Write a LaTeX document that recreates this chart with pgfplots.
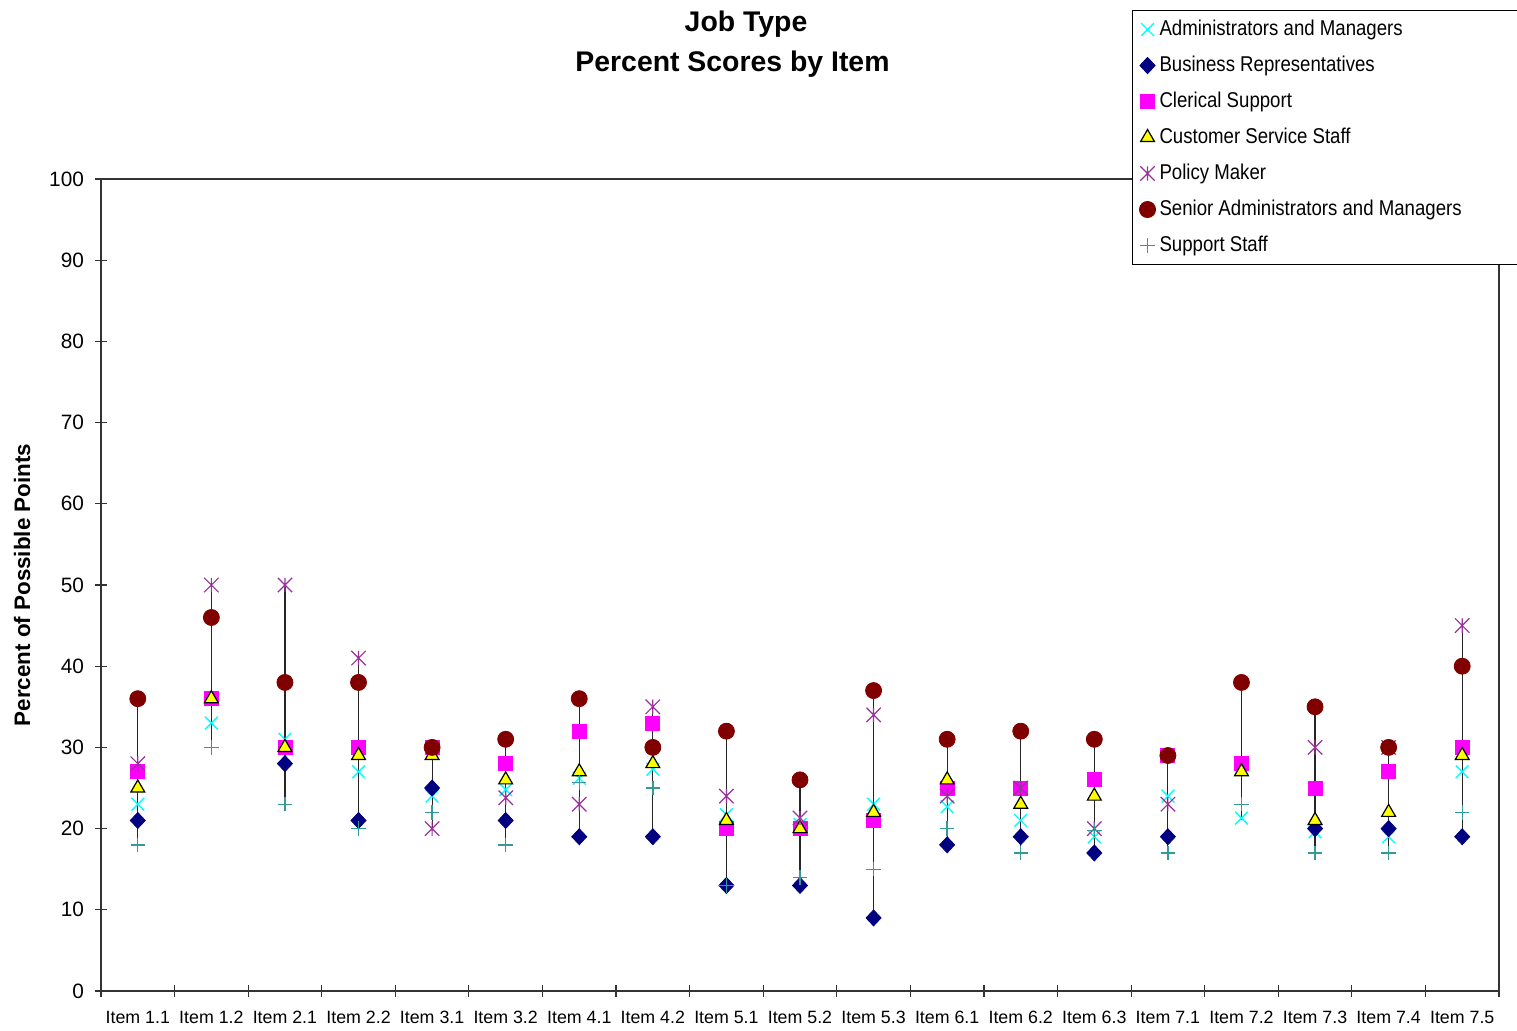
\documentclass[border=0pt]{standalone}
\usepackage{fontspec}
\setmainfont{Liberation Sans}
\newfontfamily\legendfont[FakeStretch=0.87]{Liberation Sans}
\usepackage{pgfplots}
\pgfplotsset{compat=1.18}
\usepackage{pgfplotstable}

\definecolor{adm}{RGB}{0,255,255}
\definecolor{bus}{RGB}{0,0,128}
\definecolor{cle}{RGB}{255,0,255}
\definecolor{cus}{RGB}{255,255,0}
\definecolor{pol}{RGB}{153,51,153}
\definecolor{sen}{RGB}{128,0,0}
\definecolor{sup}{RGB}{51,153,153}

% star = x plus a vertical bar
\pgfdeclareplotmark{xstar}{%
  \pgfpathmoveto{\pgfqpoint{-\pgfplotmarksize}{-\pgfplotmarksize}}%
  \pgfpathlineto{\pgfqpoint{\pgfplotmarksize}{\pgfplotmarksize}}%
  \pgfpathmoveto{\pgfqpoint{-\pgfplotmarksize}{\pgfplotmarksize}}%
  \pgfpathlineto{\pgfqpoint{\pgfplotmarksize}{-\pgfplotmarksize}}%
  \pgfpathmoveto{\pgfqpoint{0pt}{-\pgfplotmarksize}}%
  \pgfpathlineto{\pgfqpoint{0pt}{\pgfplotmarksize}}%
  \pgfusepathqstroke}

% percent scores per item and job type; lo/hi span the range of each item
\pgfplotstableread{
x  adm  bus cle cus pol sen sup  lo hi
1  23   21  27  25  28  36  18   18 36
2  33   nan 36  36  50  46  30   30 50
3  31   28  30  30  50  38  23   23 50
4  27   21  30  29  41  38  20   20 41
5  24   25  30  29  20  30  22   20 30
6  24.8 21  28  26  23.8 31 18   18 31
7  26.2 19  32  27  23  36  25.7 19 36
8  27.3 19  33  28  35  30  25   19 35
9  21.7 13  20  21  24  32  13   13 32
10 20.5 13  20  20  21.3 26 14   13 26
11 23   9   21  22  34  37  15   9  37
12 22.7 18  25  26  24  31  20   18 31
13 21   19  25  23  25  32  17   17 32
14 19   17  26  24  20  31  19.8 17 31
15 24   19  29  nan 23  29  17   17 29
16 21.3 nan 28  27  nan 38  23   21 38
17 19.6 20  25  21  30  35  17   17 35
18 19   20  27  22  30  30  17   17 30
19 27   19  30  29  45  40  22   19 45
}\scores

\pgfplotsset{
  pt/.style={only marks,
    legend image code/.code={\draw[##1] plot coordinates {(0pt,0pt)};}},
}

\begin{document}
\begin{tikzpicture}
\begin{axis}[
  scale only axis,
  width=699pt, height=406pt,
  at={(0pt,0pt)}, anchor=south west,
  xmin=0.5, xmax=19.5,
  ymin=0, ymax=100,
  ytick={0,10,...,100},
  xtick={0.5,1.5,...,19.5},
  x tick label as interval,
  xticklabels={Item 1.1,Item 1.2,Item 2.1,Item 2.2,Item 3.1,Item 3.2,Item 4.1,Item 4.2,Item 5.1,Item 5.2,Item 5.3,Item 6.1,Item 6.2,Item 6.3,Item 7.1,Item 7.2,Item 7.3,Item 7.4,Item 7.5},
  tick align=center,
  major tick length=6pt,
  xtick pos=bottom, ytick pos=left,
  tick style={black!80, line width=0.6pt},
  axis line style={black!80, line width=1pt},
  /pgf/number format/assume math mode=true,
  yticklabel style={font=\fontsize{10.4}{12}\selectfont, xshift=-2pt},
  xticklabel style={font=\fontsize{8.9}{10}\selectfont, yshift=-3.5pt},
  ylabel={\textbf{Percent of Possible Points}},
  ylabel style={at={(axis description cs:-0.0565,0.5)}, anchor=center,
    font=\fontsize{11.2}{13}\selectfont},
  clip=false,
  legend cell align=left,
  legend style={at={(axis description cs:0.7375,1.2081)}, anchor=north west,
    draw=black, line width=0.5pt, fill=white,
    inner xsep=3.5pt, inner ysep=5pt,
    font=\legendfont\fontsize{10.7}{12}\selectfont,
    column sep=2pt, row sep=9pt,
    nodes={inner sep=0pt, text height=7.5pt, text depth=1.5pt}},
]
% high-low range of each item
\addplot[draw=none, mark=none, forget plot,
  error bars/.cd, y dir=plus, y explicit, error mark=none,
  error bar style={draw=black!85, line width=0.6pt}]
  table[x=x, y=lo, y error expr=\thisrow{hi}-\thisrow{lo}] {\scores};

\addplot[pt, mark=x, draw=adm, mark size=4.5pt, line width=0.7pt]
  table[x=x, y=adm] {\scores};
\addlegendentry{Administrators and Managers}
\addplot[pt, mark=diamond*, draw=bus, fill=bus, mark size=4pt, mark options={xscale=1.25}]
  table[x=x, y=bus] {\scores};
\addlegendentry{Business Representatives}
\addplot[pt, mark=square*, draw=cle, fill=cle, mark size=3.5pt]
  table[x=x, y=cle] {\scores};
\addlegendentry{Clerical Support}
\addplot[pt, mark=triangle*, draw=black, fill=cus, mark size=4pt, line width=0.6pt]
  table[x=x, y=cus] {\scores};
\addlegendentry{Customer Service Staff}
\addplot[pt, mark=xstar, draw=pol, mark size=3.6pt, line width=0.6pt]
  table[x=x, y=pol] {\scores};
\addlegendentry{Policy Maker}
\addplot[pt, mark=*, draw=sen, fill=sen, mark size=4pt]
  table[x=x, y=sen] {\scores};
\addlegendentry{\makebox[190pt][l]{Senior Administrators and Managers}}
\addplot[pt, mark=+, draw=sup, mark size=3.6pt, line width=0.7pt]
  table[x=x, y=sup] {\scores};
\addlegendentry{Support Staff}
\end{axis}
\node[anchor=base, font=\bfseries\fontsize{14.2}{16}\selectfont] at (322.5pt,479.75pt) {Job Type};
\node[anchor=base, font=\bfseries\fontsize{14.2}{16}\selectfont] at (315.75pt,459.5pt) {Percent Scores by Item};
\pgfresetboundingbox
\useasboundingbox (-50.5pt,-19.5pt) rectangle (708pt,495.5pt);
\end{tikzpicture}
\end{document}
